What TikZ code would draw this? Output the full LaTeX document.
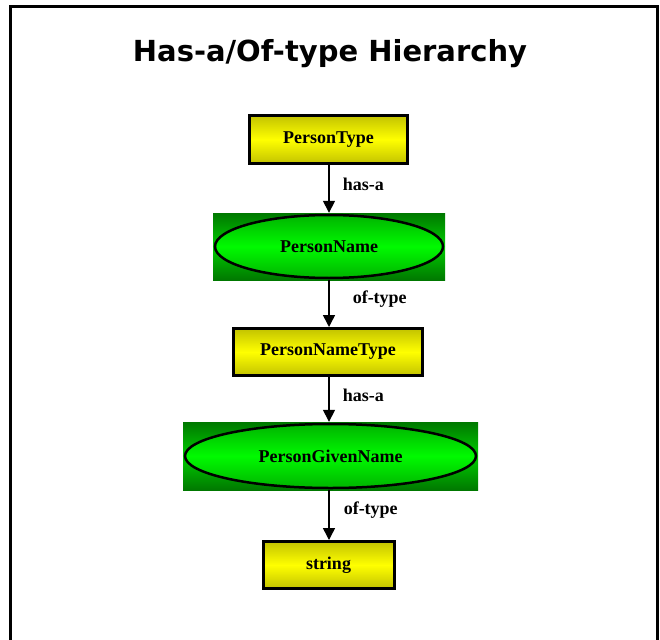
\documentclass[tikz,border=0pt]{standalone}
\usepackage{fontspec}
\setmainfont{Liberation Serif}
\newfontfamily\titlefont{DejaVu Sans}
\usetikzlibrary{arrows.meta,shapes.geometric}
\definecolor{ylw}{RGB}{255,255,0}
\definecolor{ylwdark}{RGB}{195,195,0}
\definecolor{grnrect}{RGB}{0,205,0}
\definecolor{grnrectdark}{RGB}{0,120,0}
\definecolor{grnell}{RGB}{0,250,0}
\definecolor{grnelldark}{RGB}{0,180,0}
\tikzset{
  nodefont/.style={font=\bfseries\fontsize{18}{18}\selectfont},
  ybox/.style={rectangle, draw=black, line width=3pt, top color=ylwdark, bottom color=ylwdark, middle color=ylw, nodefont, inner sep=0pt},
  gbox/.style={rectangle, top color=grnrectdark, bottom color=grnrectdark, middle color=grnrect, inner sep=0pt},
  gell/.style={ellipse, draw=black, line width=2.5pt, top color=grnelldark, bottom color=grnelldark, middle color=grnell, nodefont, inner sep=0pt},
  conn/.style={line width=1.5pt, -{Triangle[length=12pt,width=12pt]}},
  elabel/.style={nodefont, anchor=west, inner sep=0pt},
}
\begin{document}
\begin{tikzpicture}[x=1pt,y=-1pt]
\useasboundingbox (0,0) rectangle (660,639);
\fill[white] (0,0) rectangle (660,639);
% frame
\draw[line width=3pt] (10,645) -- (10,7) -- (657,7) -- (657,645);
% title
\node[font=\titlefont\bfseries\fontsize{29}{29}\selectfont] (title) at (330,54) {Has-a/Of-type Hierarchy};
% nodes
\node[ybox, minimum width=158pt, minimum height=48pt] (pt) at (328.5,139.5) {PersonType};
\node[gbox, minimum width=232pt, minimum height=67pt] (pnr) at (329,246.5) {};
\node[gell, minimum width=228pt, minimum height=63pt] (pn) at (pnr.center) {PersonName};
\node[ybox, minimum width=189pt, minimum height=47pt] (pnt) at (328,352) {PersonNameType};
\node[gbox, minimum width=295pt, minimum height=68pt] (pgr) at (330.5,456) {};
\node[gell, minimum width=291pt, minimum height=64pt] (pg) at (pgr.center) {PersonGivenName};
\node[ybox, minimum width=131pt, minimum height=47pt] (str) at (328.5,565) {string};
% connectors
\draw[conn] (pt.south -| pnr.north) -- (pnr.north) node[pos=0.4, elabel, xshift=13pt] (l1) {has-a};
\draw[conn] (pnr.south) -- (pnr.south |- pnt.north) node[pos=0.4, elabel, xshift=23pt] (l2) {of-type};
\draw[conn] (pnt.south -| pnr.south) -- (pnr.south |- pgr.north) node[pos=0.4, elabel, xshift=13pt] (l3) {has-a};
\draw[conn] (pgr.south -| pnr.south) -- (pnr.south |- str.north) node[pos=0.4, elabel, xshift=14pt] (l4) {of-type};
\end{tikzpicture}
\end{document}
